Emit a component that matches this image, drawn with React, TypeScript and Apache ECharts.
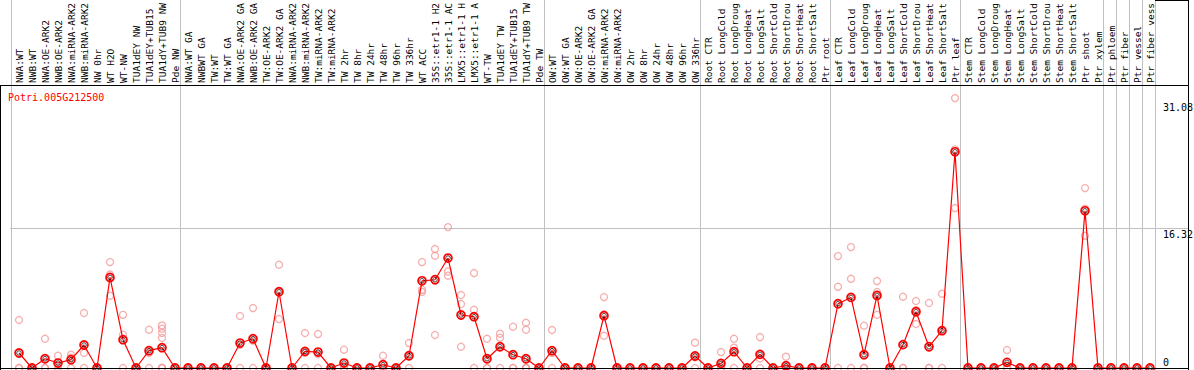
import React, { useEffect, useRef } from "react";
import * as echarts from "echarts";

const geneId = "Potri.005G212500";

const categories = [
  "NWA:WT", "NWB:WT", "NWA:OE-ARK2", "NWB:OE-ARK2", "NWA:miRNA-ARK2", "NWB:miRNA-ARK2",
  "NW 0hr", "WT H2O", "WT-NW", "TUA1dEY NW", "TUA1dEY+TUB15", "TUA1dY+TUB9 NW", "Pde NW",
  "NWA:WT GA", "NWBWT GA", "TW:WT", "TW:WT GA", "NWA:OE-ARK2 GA", "NWB:OE-ARK2 GA",
  "TW:OE-ARK2", "TW:OE-ARK2 GA", "NWA:miRNA-ARK2", "NWB:miRNA-ARK2", "TW:miRNA-ARK2",
  "TW:miRNA-ARK2", "TW 2hr", "TW 8hr", "TW 24hr", "TW 48hr", "TW 96hr", "TW 336hr",
  "WT ACC", "35S::etr1-1 H2", "35S::etr1-1 AC", "LMX5::etr1-1 H", "LMX5::etr1-1 A",
  "WT-TW", "TUA1dEY TW", "TUA1dEY+TUB15", "TUA1dY+TUB9 TW", "Pde TW",
  "OW:WT", "OW:WT GA", "OW:OE-ARK2", "OW:OE-ARK2 GA", "OW:miRNA-ARK2", "OW:miRNA-ARK2",
  "OW 2hr", "OW 8hr", "OW 24hr", "OW 48hr", "OW 96hr", "OW 336hr",
  "Root CTR", "Root LongCold", "Root LongDroug", "Root LongHeat", "Root LongSalt",
  "Root ShortCold", "Root ShortDrou", "Root ShortHeat", "Root ShortSalt", "Ptr root",
  "Leaf CTR", "Leaf LongCold", "Leaf LongDroug", "Leaf LongHeat", "Leaf LongSalt",
  "Leaf ShortCold", "Leaf ShortDrou", "Leaf ShortHeat", "Leaf ShortSalt", "Ptr leaf",
  "Stem CTR", "Stem LongCold", "Stem LongDroug", "Stem LongHeat", "Stem LongSalt",
  "Stem ShortCold", "Stem ShortDrou", "Stem ShortHeat", "Stem ShortSalt", "Ptr shoot",
  "Ptr xylem", "Ptr phloem", "Ptr fiber", "Ptr vessel", "Ptr fiber vess",
];

const meanValues = [
  1.75, 0, 1.08, 0.58, 0.97, 2.68, 0, 10.56, 3.3, 0, 2.02, 2.37, 0,
  0, 0, 0, 0, 2.91, 3.41, 0, 8.89, 0, 1.94, 1.86, 0, 0.58, 0, 0, 0.38, 0, 1.43,
  10.17, 10.29, 12.82, 6.18, 5.98, 1.08, 2.48, 1.55, 1.08, 0,
  2.02, 0, 0, 0, 6.1, 0, 0, 0, 0, 0, 0, 1.4,
  0, 0.54, 1.9, 0, 1.59, 0, 0.27, 0, 0, 0,
  7.49, 8.23, 1.55, 8.46, 0, 2.72, 6.56, 2.48, 4.35, 25.21,
  0, 0, 0, 0.66, 0, 0, 0, 0, 0, 18.33,
  0, 0, 0, 0, 0,
];

const replicateValues: number[][] = [
  [5.6, 0, 0], [0, 0, 0], [3.41, 0, 0], [1.43, 0.3, 0], [1.55, 1.2, 0], [6.41, 1.75, 0],
  [0, 0, 0], [12.35, 10.9, 8.43], [6.2, 3.88, 0], [0, 0, 0], [4.46, 1.75, 0],
  [4.97, 4.58, 4.08, 3.5, 0, 0, 0], [0, 0, 0],
  [0, 0, 0], [0, 0, 0], [0, 0, 0], [0, 0, 0], [6.06, 2.7, 0], [6.99, 3.2, 0],
  [0, 0, 0], [12.04, 8.9, 5.71], [0, 0, 0], [4.08, 1.75, 0], [3.96, 1.6, 0],
  [0, 0, 0], [2.13, 0, 0], [0, 0, 0], [0, 0, 0], [1.43, 0, 0], [0, 0, 0], [2.91, 1.4, 0],
  [12.35, 9.12, 8.88], [13.87, 13.09, 3.85], [16.43, 11.26, 10.76], [8.51, 7.46, 2.48],
  [11.07, 6.79, 0], [3.41, 0, 0], [4.0, 3.53, 0], [4.81, 0, 0], [5.28, 4.46, 0, 0, 0, 0],
  [0, 0, 0],
  [4.43, 1.75, 0], [0, 0, 0], [0, 0, 0], [0, 0, 0], [8.27, 6.27, 3.76], [0, 0, 0],
  [0, 0, 0], [0, 0, 0], [0, 0, 0], [0, 0, 0], [0, 0, 0], [2.95, 1.25, 0],
  [0, 0, 0], [1.86, 0, 0], [3.41, 2.37, 0], [0, 0, 0], [3.61, 1.12, 0], [0, 0, 0],
  [1.32, 0, 0], [0, 0, 0], [0, 0, 0], [0, 0, 0],
  [13.05, 9.47, 0], [14.1, 10.4, 0], [4.93, 0, 0], [10.14, 8.86, 6.21], [0, 0, 0],
  [8.31, 0, 0], [7.81, 6.74, 5.13], [7.58, 0, 0], [8.66, 4.4, 0], [31.47, 25.5, 18.65],
  [0, 0, 0], [0, 0, 0], [0, 0, 0], [2.1, 0, 0], [0, 0, 0], [0, 0, 0], [0, 0, 0],
  [0, 0, 0], [0, 0, 0], [20.98, 18.57, 15.42],
  [0, 0, 0], [0, 0, 0], [0, 0, 0], [0, 0, 0], [0, 0, 0],
];

const yTicks = [0, 16.32, 31.08];
const yGridValues = [16.32];
// category indices at whose left edge a group separator is drawn
const groupBoundaries = [0, 13, 41, 53, 63, 73, 84, 85, 86, 87, 88];

const W = 1194;
const H = 370;
const GRAY = "#c0c0c0";
const FONT = '"DejaVu Sans Mono", "Liberation Mono", monospace';

export default function App() {
  const ref = useRef<HTMLDivElement>(null);

  useEffect(() => {
    if (!ref.current) return;
    const chart = echarts.init(ref.current, null, { renderer: "svg" });

    const replicatePoints: [number, number][] = [];
    replicateValues.forEach((reps, i) => reps.forEach((v) => replicatePoints.push([i, v])));

    chart.setOption({
      animation: false,
      backgroundColor: "#ffffff",
      title: {
        text: geneId,
        left: 8,
        top: 92,
        padding: 0,
        textStyle: { color: "#ff0000", fontSize: 10, fontWeight: "normal", fontFamily: FONT },
      },
      grid: {
        left: 12.5,
        right: W - 1156.5,
        top: 85,
        bottom: 2,
        containLabel: false,
        outerBoundsMode: "none",
      },
      xAxis: {
        type: "category",
        position: "top",
        data: categories,
        boundaryGap: true,
        axisLine: { show: false },
        axisTick: { show: false },
        splitLine: { show: false },
        axisLabel: {
          interval: 0,
          rotate: 90,
          margin: 2,
          fontSize: 9.5,
          fontFamily: FONT,
          color: "#000",
        },
      },
      yAxis: {
        type: "value",
        position: "right",
        min: 0,
        max: 33,
        axisLine: { show: false },
        axisTick: { show: false },
        axisLabel: { show: false },
        splitLine: { show: false },
      },
      series: [
        {
          type: "scatter",
          data: replicatePoints,
          symbol: "circle",
          symbolSize: 7,
          itemStyle: { color: "rgba(0,0,0,0)", borderColor: "#f29a9a", borderWidth: 1.3 },
          z: 2,
        },
        {
          type: "line",
          data: meanValues,
          showAllSymbol: true,
          symbol: "circle",
          symbolSize: 8,
          lineStyle: { color: "#ff0000", width: 1.2 },
          itemStyle: { color: "rgba(0,0,0,0)", borderColor: "#ff0000", borderWidth: 1.7 },
          z: 3,
        },
        {
          type: "scatter",
          data: meanValues,
          symbol: "circle",
          symbolSize: 4.5,
          itemStyle: { color: "rgba(0,0,0,0)", borderColor: "#000000", borderWidth: 0.9 },
          z: 4,
        },
      ],
    });

    const px = (i: number) => chart.convertToPixel({ xAxisIndex: 0 }, i) as number;
    const py = (v: number) => chart.convertToPixel({ yAxisIndex: 0 }, v) as number;
    const band = px(1) - px(0);
    const x0 = px(0) - band / 2;
    const yZero = py(0);
    const frameRight = 1188.5;
    const headerY = 85.5;

    const graphics: any[] = [];
    groupBoundaries.forEach((b) => {
      const x = Math.round(x0 + band * b - 1.5) + 0.5;
      graphics.push({
        type: "line",
        silent: true,
        z: 0,
        shape: { x1: x, y1: 0, x2: x, y2: H },
        style: { stroke: GRAY, lineWidth: 1 },
      });
    });
    yGridValues.forEach((v) => {
      const y = Math.round(py(v)) + 0.5;
      graphics.push({
        type: "line",
        silent: true,
        z: 0,
        shape: { x1: 10, y1: y, x2: frameRight, y2: y },
        style: { stroke: GRAY, lineWidth: 1 },
      });
    });
    const black = (x1: number, y1: number, x2: number, y2: number) => ({
      type: "line",
      silent: true,
      z: 10,
      shape: { x1, y1, x2, y2 },
      style: { stroke: "#000", lineWidth: 1 },
    });
    graphics.push(black(0, headerY, frameRight, headerY));
    graphics.push(black(0.5, headerY, 0.5, H));
    graphics.push(black(frameRight, 0, frameRight, H));
    graphics.push(black(1155, 0.5, frameRight, 0.5));
    const yb = Math.round(yZero) + 0.5;
    graphics.push(black(0, yb, frameRight, yb));

    yTicks.forEach((v) => {
      const y = py(v);
      graphics.push({
        type: "text",
        silent: true,
        z: 11,
        x: 1163,
        y: v === 0 ? y - 1 : y + 1,
        style: {
          text: String(v),
          fill: "#000",
          fontSize: 10,
          fontFamily: FONT,
          textAlign: "left",
          textVerticalAlign: v === 0 ? "bottom" : "top",
          verticalAlign: v === 0 ? "bottom" : "top",
        },
      });
    });

    chart.setOption({ graphic: graphics });

    return () => chart.dispose();
  }, []);

  return (
    <div
      ref={ref}
      style={{ position: "fixed", left: 0, top: 0, width: W, height: H, background: "#fff" }}
    />
  );
}
